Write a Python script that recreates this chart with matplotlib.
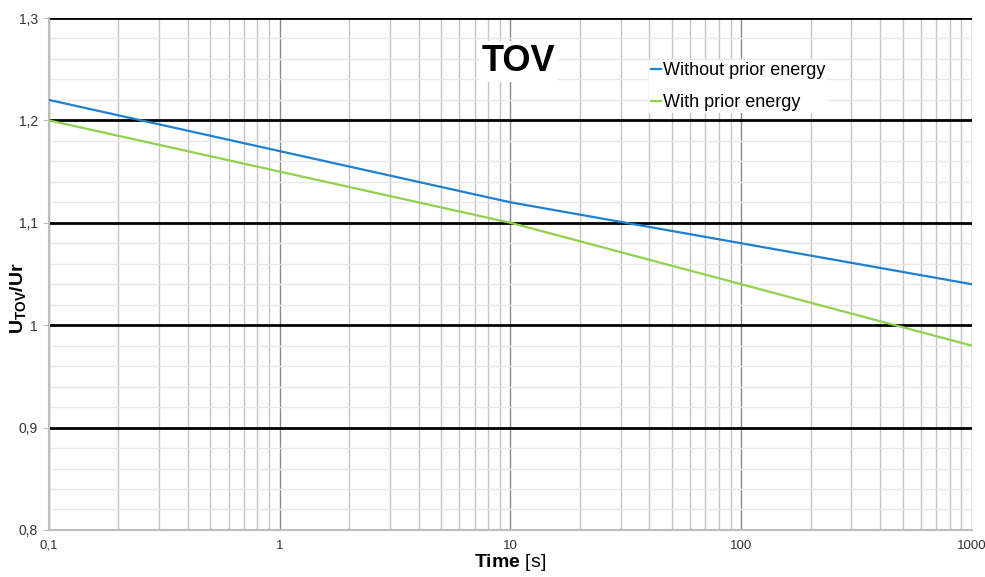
import numpy as np
import matplotlib
matplotlib.use('Agg')
import matplotlib.pyplot as plt
from matplotlib.ticker import FixedLocator, FuncFormatter, LogLocator

plt.rcParams['font.family'] = ['Liberation Sans', 'DejaVu Sans']
plt.rcParams['mathtext.fontset'] = 'custom'
plt.rcParams['mathtext.rm'] = 'Liberation Sans'
plt.rcParams['mathtext.bf'] = 'Liberation Sans:bold'

# data
time = [0.1, 1, 10, 100, 1000]
without_prior = [1.22, 1.17, 1.12, 1.08, 1.04]
with_prior = [1.20, 1.15, 1.10, 1.04, 0.98]
xticks = [0.1, 1, 10, 100, 1000]
yticks = [0.8, 0.9, 1.0, 1.1, 1.2, 1.3]

fig = plt.figure(figsize=(9.85, 5.77), dpi=100)
ax = fig.add_axes([0.0497, 0.0815, 0.9371, 0.8873])

ax.plot(time, without_prior, color='#1f7fd0', lw=1.6, label='Without prior energy', zorder=3)
ax.plot(time, with_prior, color='#92d050', lw=1.6, label='With prior energy', zorder=3)

ax.set_xscale('log')
ax.set_xlim(0.1, 1000)
ax.set_ylim(0.8, 1.3)

ax.xaxis.set_major_locator(FixedLocator(xticks))
ax.xaxis.set_minor_locator(LogLocator(base=10, subs=np.arange(2, 10)))
ax.xaxis.set_major_formatter(FuncFormatter(lambda v, p: ('%g' % v).replace('.', ',')))
ax.yaxis.set_major_locator(FixedLocator(yticks))
ax.yaxis.set_minor_locator(FixedLocator(np.arange(0.8, 1.301, 0.02)))
ax.yaxis.set_major_formatter(FuncFormatter(lambda v, p: ('%g' % round(v, 2)).replace('.', ',')))

ax.grid(which='minor', axis='y', color='#e8e8e8', lw=1)
ax.grid(which='major', axis='y', color='black', lw=2)
ax.grid(which='minor', axis='x', color='#c4c4c4', lw=1)
ax.grid(which='major', axis='x', color='#8a8a8a', lw=1)

for s in ['top', 'right']:
    ax.spines[s].set_visible(False)
for s in ['left', 'bottom']:
    ax.spines[s].set_color('#bdbdbd')
    ax.spines[s].set_linewidth(1.5)

ax.tick_params(axis='x', which='both', length=0, pad=7, labelsize=9.5, colors='#333333')
ax.tick_params(axis='y', which='major', length=4, color='#bdbdbd', pad=4, labelsize=10, labelcolor='#333333')
ax.tick_params(axis='y', which='minor', length=0)

ax.set_xlabel(r'$\mathbf{Time}$ [s]', fontsize=14, labelpad=0)
ax.set_ylabel(r'$\mathbf{U_{TOV}/Ur}$', fontsize=14)
ax.yaxis.set_label_coords(-0.023, 0.453)

ax.text(0.509, 0.915, 'TOV', transform=ax.transAxes, ha='center', va='center',
        fontsize=26, fontweight='bold',
        bbox=dict(facecolor='white', edgecolor='none', pad=2), zorder=4)

leg = ax.legend(loc='upper left', bbox_to_anchor=(0.64, 0.935), frameon=True,
                fontsize=13, handlelength=0.6, handletextpad=0.1, borderpad=0.1,
                labelspacing=0.85, fancybox=False)
leg.get_frame().set_edgecolor('none')
leg.get_frame().set_facecolor('white')
leg.get_frame().set_alpha(1)

plt.savefig('out.png', dpi=100)
